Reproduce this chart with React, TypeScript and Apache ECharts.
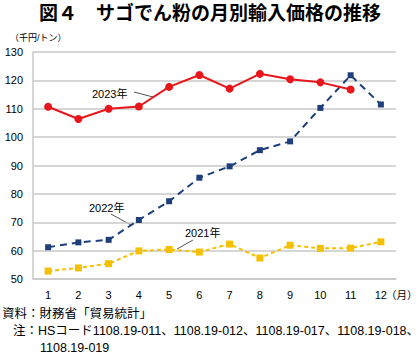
import React, { useEffect, useRef } from "react";
import * as echarts from "echarts";

const months = ["1", "2", "3", "4", "5", "6", "7", "8", "9", "10", "11", "12"];
const y2023 = [110.7, 106.4, 110.0, 110.8, 117.7, 121.9, 117.1, 122.3, 120.4, 119.3, 116.8, null];
const y2022 = [61.2, 62.9, 63.8, 70.8, 77.4, 85.7, 89.7, 95.4, 98.5, 110.3, 121.8, 111.5];
const y2021 = [52.8, 53.9, 55.4, 59.9, 60.4, 59.5, 62.3, 57.4, 61.9, 60.8, 60.9, 63.1];
const yTicks = { min: 50, max: 130, interval: 10 };

const FONT = "'Liberation Sans', Arial, 'Noto Sans CJK JP', sans-serif";

export default function App() {
  const ref = useRef<HTMLDivElement>(null);
  useEffect(() => {
    if (!ref.current) return;
    document.body.style.margin = "0";
    const chart = echarts.init(ref.current, null, { renderer: "svg" });
    const textStyle = (t: string, x: number, y: number, size = 11, extra: any = {}) => ({
      type: "text",
      x,
      y,
      style: { text: t, fontSize: size, fontFamily: FONT, fill: "#000", textVerticalAlign: "middle", ...extra },
    });
    const leader = (x1: number, y1: number, x2: number, y2: number) => ({
      type: "line",
      shape: { x1, y1, x2, y2 },
      style: { stroke: "#555", lineWidth: 1 },
    });
    chart.setOption({
      animation: false,
      textStyle: { fontFamily: FONT },
      grid: { left: 33, right: 24, top: 52, bottom: 84 },
      xAxis: {
        type: "category",
        data: months,
        boundaryGap: true,
        axisLine: { lineStyle: { color: "#c8c8c8", width: 1.5 } },
        axisTick: { show: false },
        axisLabel: { color: "#000", fontSize: 11, margin: 10, fontFamily: FONT },
      },
      yAxis: {
        type: "value",
        min: yTicks.min,
        max: yTicks.max,
        interval: yTicks.interval,
        axisLine: { show: true, lineStyle: { color: "#c8c8c8", width: 1.5 } },
        axisTick: { show: false },
        axisLabel: { color: "#000", fontSize: 11, margin: 10, fontFamily: FONT },
        splitLine: { lineStyle: { color: "#c8c8c8", width: 1.5 } },
      },
      series: [
        {
          name: "2021年",
          type: "line",
          data: y2021,
          symbol: "rect",
          symbolSize: 7,
          itemStyle: { color: "#f5c000" },
          lineStyle: { color: "#f5c000", width: 2, type: [4, 3] },
        },
        {
          name: "2022年",
          type: "line",
          data: y2022,
          symbol: "rect",
          symbolSize: 6,
          itemStyle: { color: "#1f3f7a" },
          lineStyle: { color: "#1f3f7a", width: 2, type: [7, 5] },
        },
        {
          name: "2023年",
          type: "line",
          data: y2023,
          symbol: "circle",
          symbolSize: 8,
          itemStyle: { color: "#e8161b" },
          lineStyle: { color: "#e8161b", width: 2 },
        },
      ],
      graphic: [
        textStyle("図４　サゴでん粉の月別輸入価格の推移", 210, 13, 19, { fontWeight: "bold", textAlign: "center" }),
        textStyle("（千円/トン）", 10, 38, 9),
        textStyle("（月）", 386, 295, 10.5),
        textStyle("2023年", 92, 94, 11),
        leader(134, 92, 153, 97),
        textStyle("2022年", 89, 208, 11),
        leader(111, 214, 131, 225),
        textStyle("2021年", 185, 233, 11),
        leader(193, 240, 177, 249),
        textStyle("資料：財務省「貿易統計」", 2, 314, 12.5),
        textStyle("注：HSコード1108.19-011、1108.19-012、1108.19-017、1108.19-018、", 13, 331, 12.5),
        textStyle("1108.19-019", 40, 348, 12.5),
      ],
    });
    return () => chart.dispose();
  }, []);
  return <div ref={ref} style={{ width: 420, height: 363 }} />;
}
